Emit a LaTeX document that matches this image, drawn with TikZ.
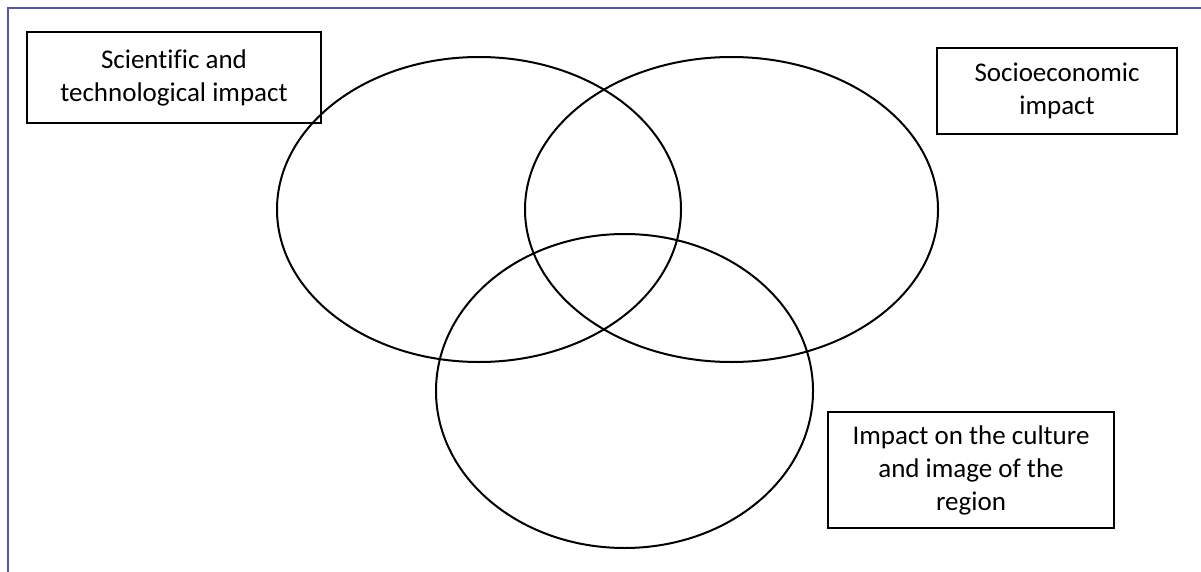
\documentclass[tikz,border=0pt]{standalone}
\usepackage{fontspec}
\setmainfont[Ligatures=NoCommon]{Carlito}
\definecolor{frameblue}{HTML}{5558AA}
\begin{document}
\begin{tikzpicture}[x=1pt,y=-1pt,
  labelbox/.style={draw=black,line width=1.4pt,align=center,inner sep=0pt,
    font=\fontsize{27}{33}\selectfont},
  venn/.style={draw=black,line width=2pt}]
\useasboundingbox (0,0) rectangle (1201,572);
\fill[white] (0,0) rectangle (1201,572);
% frame
\draw[frameblue,line width=2.4pt] (8,572) -- (8,8) -- (1201,8);
% ellipses
\coordinate (ca) at (479,209.5);
\coordinate (cb) at (731.5,209.5);
\coordinate (cc) at (624.5,391);
\draw[venn] (ca) ellipse [x radius=202,y radius=152.5];
\draw[venn] (cb) ellipse [x radius=206.5,y radius=152.5];
\draw[venn] (cc) ellipse [x radius=188.5,y radius=157];
% boxes
\node[labelbox,minimum width=294,minimum height=91] (sci) at (174,77.5)
  {Scientific and\\technological impact};
\node[labelbox,minimum width=240,minimum height=86] (soc) at (1057,91)
  {Socioeconomic\\impact};
\node[labelbox,minimum width=286,minimum height=116] (cult) at (971,470)
  {Impact on the culture\\and image of the\\region};
\end{tikzpicture}
\end{document}
